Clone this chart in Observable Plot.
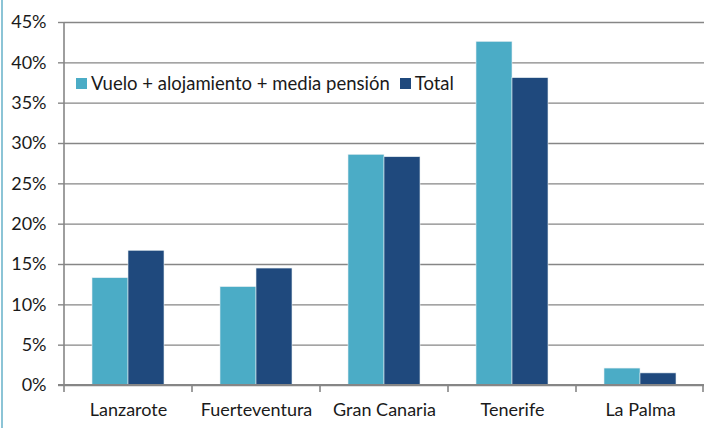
<!DOCTYPE html>
<html><head><meta charset="utf-8">
<script src="https://cdn.jsdelivr.net/npm/d3@7"></script>
<script src="https://cdn.jsdelivr.net/npm/@observablehq/plot@0.6"></script>
<style>
html,body{margin:0;padding:0;background:#fff;}
#wrap{position:relative;width:706px;height:428px;overflow:hidden;font-family:Lato,sans-serif;}
#wrap::before{content:"";position:absolute;left:1px;top:0;bottom:0;width:1.5px;background:#8cc4d6;}
#legend{position:absolute;left:76px;top:72px;font-size:18.5px;color:#1a1a1a;display:flex;align-items:center;white-space:nowrap;}
#legend .sw{display:inline-block;width:11px;height:11px;margin-right:4px;}
#legend .it{display:flex;align-items:center;margin-right:10px;}
svg{position:absolute;left:0;top:0;}
</style></head><body><div id="wrap"><div id="legend"></div></div>
<script>
const islands = ["Lanzarote", "Fuerteventura", "Gran Canaria", "Tenerife", "La Palma"];
const seriesNames = ["Vuelo + alojamiento + media pensión", "Total"];
const paquete = [13.3, 12.2, 28.6, 42.6, 2.1];
const total = [16.7, 14.5, 28.3, 38.1, 1.5];
const colors = ["#4BACC6", "#1F497D"];
const yTicks = [0, 5, 10, 15, 20, 25, 30, 35, 40, 45];

const rows = islands.flatMap((island, i) => [
  {island, serie: seriesNames[0], value: paquete[i]},
  {island, serie: seriesNames[1], value: total[i]}
]);

const axisColor = "#868686";

const chart = Plot.plot({
  width: 706, height: 428,
  marginTop: 22, marginBottom: 43, marginLeft: 63, marginRight: 1,
  style: {fontFamily: "Lato, sans-serif", fontSize: "18px", color: "#1a1a1a", background: "transparent"},
  fx: {domain: islands, padding: 0, label: null, axis: "bottom", tickSize: 0, tickPadding: 18},
  x: {domain: seriesNames, paddingInner: 0, paddingOuter: 0.735, axis: null},
  y: {domain: [0, 45], label: null, axis: null},
  color: {domain: seriesNames, range: colors},
  marks: [
    Plot.gridY(yTicks, {stroke: axisColor, strokeOpacity: 1, strokeWidth: 1.4}),
    Plot.axisY(yTicks, {facetAnchor: "left", tickFormat: d => d + "%", tickSize: 6, tickPadding: 12, stroke: axisColor, strokeWidth: 1.4, label: null}),
    Plot.barY(rows, {fx: "island", x: "serie", y: "value", fill: "serie", stroke: "#e6eef2", strokeWidth: 0.6})
  ]
});

document.getElementById("wrap").prepend(chart);

// axis lines and category boundary ticks, positioned from the library's scales
const fx = chart.scale("fx"), y = chart.scale("y");
const svg = d3.select(chart);
const y0 = y.apply(0), yTop = y.apply(45);
const xs = islands.map(d => fx.apply(d));
const bw = fx.bandwidth;
const xEnd = xs[xs.length - 1] + bw;
const g = svg.append("g").attr("stroke", axisColor).attr("stroke-width", 1.6);
g.append("line").attr("x1", xs[0]).attr("x2", xs[0]).attr("y1", yTop).attr("y2", y0 + 7);
g.append("line").attr("x1", xs[0] - 6).attr("x2", xEnd).attr("y1", y0).attr("y2", y0).attr("stroke-width", 2);
[...xs.slice(1), xEnd - 1].forEach(x => g.append("line").attr("x1", x).attr("x2", x).attr("y1", y0).attr("y2", y0 + 7));

// legend
const leg = d3.select("#legend");
seriesNames.forEach((s, i) => {
  const it = leg.append("span").attr("class", "it");
  it.append("span").attr("class", "sw").style("background", colors[i]);
  it.append("span").text(s);
});
</script>
</body></html>
